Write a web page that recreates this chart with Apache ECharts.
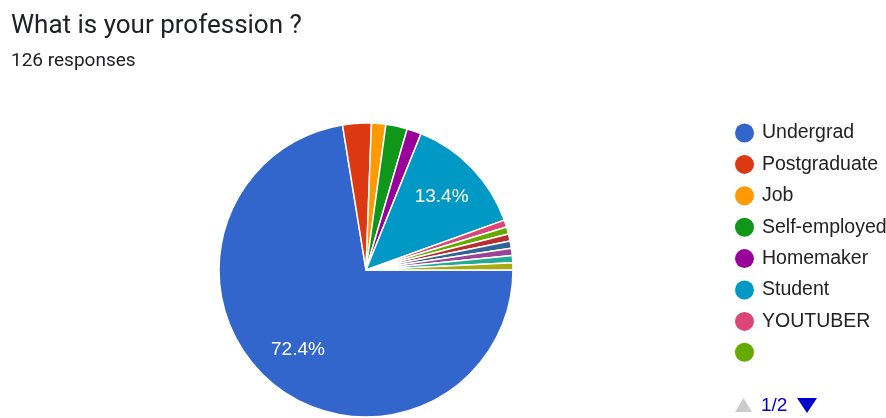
<!DOCTYPE html>
<html>
<head>
<meta charset="utf-8">
<script src="https://cdn.jsdelivr.net/npm/echarts@6/dist/echarts.min.js"></script>
<style>
html,body{margin:0;padding:0;background:#fff;}
#c{width:886px;height:418px;}
</style>
</head>
<body>
<div id="c"></div>
<script>
const titleText = 'What is your profession ?';
const subtitleText = '126 responses';
const categories = ['Undergrad','Postgraduate','Job','Self-employed','Homemaker','Student','YOUTUBER','(blank)','Other 9','Other 10','Other 11','Other 12','Other 13'];
const values = [92, 4, 2, 3, 2, 17, 1, 1, 1, 1, 1, 1, 1];
const colors = ['#3366cc','#dc3912','#ff9900','#109618','#990099','#0099c6','#dd4477','#66aa00','#b82e2e','#316395','#994499','#22aa99','#aaaa11'];
const legendPage1 = categories.slice(0, 8);
const hiddenNames = ['(blank)'];
const pageText = '1/2';

const data = categories.map((n, i) => ({ name: n, value: values[i] }));
const chart = echarts.init(document.getElementById('c'), null, { renderer: 'canvas' });
const labelFont = '"Liberation Sans", Arial, sans-serif';
chart.setOption({
  animation: false,
  color: colors,
  title: [
    { text: titleText, left: 11, top: 13, padding: 0, textStyle: { fontFamily: 'Roboto, sans-serif', fontSize: 26, fontWeight: 'normal', color: '#202124' } },
    { text: subtitleText, left: 11, top: 52, padding: 0, textStyle: { fontFamily: 'Roboto, sans-serif', fontSize: 19, fontWeight: 'normal', color: '#202124' } }
  ],
  legend: {
    type: 'plain',
    orient: 'vertical',
    left: 735,
    top: 123,
    padding: 0,
    data: legendPage1,
    icon: 'circle',
    itemWidth: 19,
    itemHeight: 19,
    itemGap: 11.4,
    itemStyle: { borderWidth: 0 },
    formatter: n => hiddenNames.includes(n) ? '' : n,
    textStyle: { fontFamily: labelFont, fontSize: 19.5, lineHeight: 19, color: '#222222', padding: [0, 0, 0, 3] }
  },
  graphic: [
    { type: 'polygon', shape: { points: [[735, 412], [752, 412], [743.5, 398]] }, style: { fill: '#cccccc' } },
    { type: 'text', left: 761, top: 396, style: { text: pageText, fill: '#0000cc', fontSize: 19, fontFamily: labelFont } },
    { type: 'polygon', shape: { points: [[797, 398], [817, 398], [807, 413]] }, style: { fill: '#0000cc' } }
  ],
  series: [
    {
      type: 'pie',
      center: [366, 270],
      radius: [0, 147],
      startAngle: 0,
      clockwise: true,
      avoidLabelOverlap: false,
      itemStyle: { borderColor: '#ffffff', borderWidth: 1.5 },
      label: { show: false },
      labelLine: { show: false },
      emphasis: { scale: false },
      data: data
    },
    {
      type: 'pie',
      center: [366, 270],
      radius: [57, 147],
      startAngle: 0,
      clockwise: true,
      silent: true,
      avoidLabelOverlap: false,
      itemStyle: { color: 'rgba(0,0,0,0)', borderWidth: 0 },
      labelLine: { show: false },
      label: {
        show: true,
        position: 'inside',
        fontFamily: labelFont,
        fontSize: 19,
        color: '#ffffff',
        formatter: p => p.percent >= 5 ? p.percent.toFixed(1) + '%' : ''
      },
      emphasis: { disabled: true },
      data: data
    }
  ]
});
</script>
</body>
</html>
